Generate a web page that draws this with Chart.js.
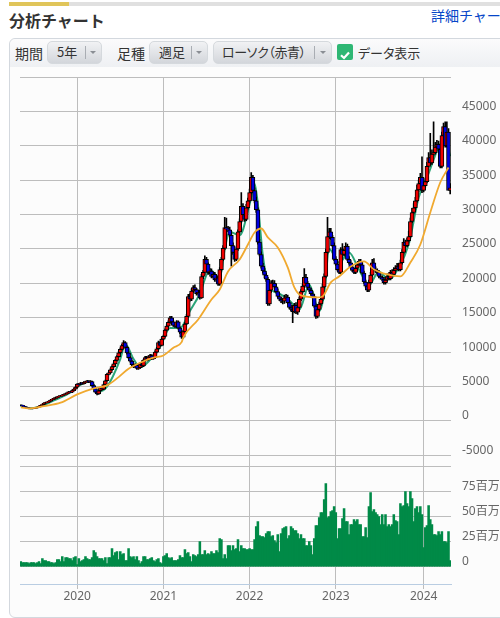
<!DOCTYPE html>
<html lang="ja">
<head>
<meta charset="utf-8">
<script src="https://cdn.jsdelivr.net/npm/chart.js@4/dist/chart.umd.min.js"></script>
<style>
  html, body { margin: 0; padding: 0; background: #fff; }
  body { position: relative; width: 500px; height: 618px; overflow: hidden; font-family: "Noto Sans CJK JP", "Noto Sans", sans-serif; color: #333; font-feature-settings: "palt"; }
  .abs { position: absolute; white-space: nowrap; }
  #topBar { left: 9px; top: 2px; width: 491px; height: 4px; background: #e0e0e0; }
  #topBarOn { left: 9px; top: 2px; width: 60px; height: 4px; background: #e0c55a; }
  #title { left: 9px; top: 8px; font-size: 16px; line-height: 24px; font-weight: 700; color: #333; font-feature-settings: normal; }
  #detail { left: 431px; top: 5px; font-size: 14px; line-height: 20px; color: #0645c8; font-feature-settings: normal; }
  #panel { left: 9px; top: 38px; width: 500px; height: 578px; border: 1px solid #d3d8de; border-radius: 6px; background: #fcfcfc; }
  #toolbar { left: 10px; top: 39px; width: 490px; height: 28px; background: linear-gradient(#fbfbfc, #eef0f3); border-radius: 6px 0 0 0; }
  .lbl { top: 42px; font-size: 14px; line-height: 22px; color: #333; }
  .btn { top: 41px; height: 23px; box-sizing: border-box; border: 1px solid #d5d9dd; border-radius: 5px; background: linear-gradient(#f1f2f4, #d3d6db); font-size: 13px; line-height: 20px; color: #333; }
  .btn span { position: absolute; top: 0; }
  .btn i { position: absolute; top: 4px; width: 1px; height: 13px; background: #a9adb3; }
  .btn b { position: absolute; top: 9px; width: 0; height: 0; border-left: 3px solid transparent; border-right: 3px solid transparent; border-top: 3px solid #8a8e94; }
  #check { left: 337px; top: 44px; width: 16px; height: 16px; border-radius: 2px; background: #2fb774; }
  #chartCanvas { position: absolute; left: 0; top: 68px; }
</style>
</head>
<body>
<div class="abs" id="topBar"></div>
<div class="abs" id="topBarOn"></div>
<div class="abs" id="title">分析チャート</div>
<div class="abs" id="detail">詳細チャート</div>
<div class="abs" id="panel"></div>
<div class="abs" id="toolbar"></div>
<div class="abs lbl" style="left:15px">期間</div>
<div class="abs btn" style="left:47px;width:55px"><span style="left:9px">5年</span><i style="left:37px"></i><b style="left:42px"></b></div>
<div class="abs lbl" style="left:117px">足種</div>
<div class="abs btn" style="left:149px;width:59px"><span style="left:9px">週足</span><i style="left:41px"></i><b style="left:46px"></b></div>
<div class="abs btn" style="left:213px;width:119px"><span style="left:8px;letter-spacing:-0.4px">ローソク（赤青）</span><i style="left:100px"></i><b style="left:106px"></b></div>
<div class="abs" id="check"><svg width="16" height="16"><path d="M4 8.2 L7 11 L12 5.5" fill="none" stroke="#fff" stroke-width="2.2"/></svg></div>
<div class="abs lbl" style="left:358px;font-size:13px">データ表示</div>
<canvas id="chartCanvas" width="500" height="550"></canvas>

<script>
// Weekly candles, 260 weeks from May 2019
const opens = [
  2300,2270,2180,2050,1960,1880,1820,1790,1830,1860,1950,2020,2150,2280,2400,2620,2680,2750,2900,3050,
  3150,3290,3400,3530,3610,3650,3780,3850,3980,4110,4230,4180,4420,4650,4900,5360,5300,5520,5430,5610,
  5700,5800,5640,5720,5150,4700,4200,3950,4400,4840,4620,5300,5850,6770,7000,7450,7900,8300,8800,9350,
  9920,10400,10950,11380,10700,9900,9200,8700,8200,7900,8100,7650,7740,8300,8000,8800,9200,8900,9300,9500,
  9050,9200,10000,10500,11380,11000,11900,12300,13200,13800,14330,15000,14400,13900,13750,14400,13500,12900,12200,13000,
  14100,15200,18100,17700,18900,19400,19100,18500,18700,17900,21000,21600,23500,22800,21600,21800,21000,21300,20500,20800,
  19900,22000,23500,25100,28100,27900,27800,27000,25500,24500,23500,25000,27500,29000,31200,30000,29300,31000,32000,33200,
  35400,33500,32000,30700,26000,24200,22500,21800,21200,20600,17000,19000,20100,20000,19500,18800,18100,17700,17400,17400,
  17900,18000,17200,16500,16200,15900,16800,15800,16500,17700,18800,19600,20900,20000,19400,19000,18500,18100,16700,15200,
  16200,17000,17700,19500,21000,24500,26800,27500,26700,25500,23500,22800,22000,21600,24900,24200,24800,25400,23500,23000,
  22400,21900,21600,22200,22700,23200,22700,21500,20200,19600,19000,20100,21200,23000,22000,21800,21600,21000,20800,20600,
  20100,20500,21000,20700,21600,21300,21900,22200,22500,22000,23000,24500,26000,25500,26200,26800,29000,30300,31000,32000,
  33600,34500,35400,33500,34200,34800,37000,38300,37500,38800,39000,39800,40200,39500,37000,41500,42800,40000,42000,33500
];
const closes = [
  2270,2180,2050,1960,1880,1820,1790,1830,1860,1950,2020,2150,2280,2400,2620,2680,2750,2900,3050,3150,
  3290,3400,3530,3610,3650,3780,3850,3980,4110,4230,4180,4420,4650,4900,5360,5300,5520,5430,5610,5700,
  5800,5640,5720,5150,4700,4200,3950,4400,4840,4620,5300,5850,6770,7000,7450,7900,8300,8800,9350,9920,
  10400,10950,11380,10700,9900,9200,8700,8200,7900,8100,7650,7740,8300,8000,8800,9200,8900,9300,9500,9050,
  9200,10000,10500,11380,11000,11900,12300,13200,13800,14330,15000,14400,13900,13750,14400,13500,12900,12200,13000,14100,
  15200,18100,17700,18900,19400,19100,18500,18700,17900,21000,21600,23500,22800,21600,21800,21000,21300,20500,20800,19900,
  22000,23500,25100,28100,27900,27800,27000,25500,24500,23500,25000,27500,29000,31200,30000,29300,31000,32000,33200,35400,
  33500,32000,30700,26000,24200,22500,21800,21200,20600,17000,19000,20100,20000,19500,18800,18100,17700,17400,17400,17900,
  18000,17200,16500,16200,15900,16800,15800,16500,17700,18800,19600,20900,20000,19400,19000,18500,18100,16700,15200,16200,
  17000,17700,19500,21000,24500,26800,27500,26700,25500,23500,22800,22000,21600,24900,24200,24800,25400,23500,23000,22400,
  21900,21600,22200,22700,23200,22700,21500,20200,19600,19000,20100,21200,23000,22000,21800,21600,21000,20800,20600,20100,
  20500,21000,20700,21600,21300,21900,22200,22500,22000,23000,24500,26000,25500,26200,26800,29000,30300,31000,32000,33600,
  34500,35400,33500,34200,34800,37000,38300,37500,38800,39000,39800,40200,39500,37000,41500,42800,40000,42000,33500,33900
];
const highs = [
  2350,2300,2220,2100,2000,1930,1870,1860,1900,1960,2060,2190,2320,2460,2680,2750,2840,2980,3120,3230,
  3360,3480,3600,3680,3730,3860,3930,4050,4190,4310,4320,4500,4730,4990,5450,5450,5620,5600,5720,5810,
  5920,5870,5860,5820,5280,4820,4310,4500,4920,4950,5400,5960,6900,7120,7570,8030,8450,8950,9500,10100,
  10650,11150,11700,11550,10900,10050,9350,8850,8350,8300,8250,8000,8450,8450,8950,9400,9400,9500,9700,9650,
  9400,10200,10700,11600,11550,12100,12500,13400,14000,14550,15200,15200,14600,14200,14600,14550,13700,13100,13200,14300,
  15500,18400,18500,19200,19700,19800,19300,19000,19000,21300,21900,24000,23800,23000,22200,22100,21600,21600,21100,21100,
  22300,23800,25500,29600,29500,28300,28200,27400,25900,24900,25300,27800,29400,33200,31600,30400,31500,32400,33700,36100,
  35700,33900,32500,31000,26400,24600,22900,22200,21500,20900,19300,20400,20500,20400,19900,19200,18400,18000,17800,18300,
  18400,18300,17500,16800,16500,17100,17200,16800,18000,19100,19900,22150,21300,20300,19700,19300,18800,18400,17000,16500,
  17300,18000,19900,21400,25000,29600,28000,28000,27000,25900,23900,23200,22300,25200,25800,25000,25900,25700,23900,23300,
  22700,22200,22600,23000,23500,23500,23000,21800,20500,19900,20500,21600,23500,23600,22400,22100,21900,21300,21100,20900,
  20900,21400,21300,21900,22000,22300,22600,22900,22900,23400,24900,26500,26300,26600,27600,29500,30900,31600,32500,34300,
  35000,36000,38400,34800,35300,37600,39000,41800,39400,43500,40500,40800,40700,39800,42000,43300,43500,43500,42500,34500
];
const lows = [
  2200,2120,2000,1910,1830,1770,1740,1750,1790,1820,1910,1980,2110,2240,2360,2570,2640,2700,2860,3000,
  3100,3240,3350,3480,3560,3600,3730,3800,3930,4060,4100,4120,4370,4600,4850,5200,5240,5360,5370,5550,
  5640,5580,5560,5050,4600,4100,3800,3880,4330,4550,4550,5220,5780,6680,6900,7350,7800,8200,8700,9250,
  9800,10300,10850,10550,9700,9050,8550,8050,7750,7750,7500,7500,7650,7850,7900,8700,8750,8800,9200,8900,
  8950,9100,9900,10400,10850,10900,11800,12200,13100,13700,14200,14250,13750,13600,13550,13350,12700,12000,12050,12900,
  14000,15100,17400,17500,18700,18900,18300,18300,17700,17800,20700,21300,22500,21300,21400,20800,20800,20300,20300,19700,
  19700,21800,23300,24900,27600,27500,26800,22500,24200,23200,23300,24800,27300,28800,29800,29000,29100,30800,31800,33000,
  33200,31700,30300,25700,24000,22200,21500,20800,20300,16800,16800,18700,19800,19300,18600,17900,17500,17200,17000,17100,
  17700,17000,16300,16000,14300,15700,15600,15500,16300,17500,18600,19400,19800,19200,18800,18300,17900,16500,14900,15000,
  16000,16800,17500,19300,20800,24300,26500,26400,25300,23300,22600,21800,21400,21400,24000,24000,24600,23300,22800,22200,
  21700,21400,21400,22000,22500,22500,21300,20000,19400,18800,18800,19900,21000,21800,21600,21400,20800,20600,20400,19900,
  19900,20300,20500,20500,21100,21100,21700,22000,21800,21800,22800,24300,25300,25300,26000,26600,28800,30100,30800,31800,
  33300,34300,33200,33300,34000,34600,36800,37300,37300,38600,38800,39600,39300,36800,36800,41300,39800,39800,33800,33000
];
// Volume in millions of shares
const volumes = [
  5,4,4,4,4,3,4,4,4,3,4,5,3,8,6,6,5,5,4,4,3,4,7,7,5,10,5,9,9,8,8,6,9,10,
  2,8,5,6,7,10,8,7,7,9,16,14,10,8,8,8,6,9,3,9,9,18,11,14,15,7,15,12,13,6,6,18,10,9,10,7,10,6,3,5,10,10,7,7,8,9,6,5,7,8,4,3,
  10,11,13,9,8,9,6,6,6,7,11,9,9,17,13,14,10,5,12,11,10,12,25,12,12,16,12,13,12,15,13,13,16,14,28,27,8,12,8,21,21,16,21,17,18,27,15,21,18,18,17,17,18,
  17,17,27,40,45,31,30,30,29,33,35,35,30,31,26,24,32,15,33,38,39,40,28,31,40,38,36,36,33,28,32,28,28,21,21,25,21,12,28,41,41,49,54,54,67,83,
  49,50,55,56,60,54,28,38,38,48,58,45,45,32,42,42,47,45,47,42,42,30,30,39,29,60,74,55,57,54,52,50,42,52,42,52,40,42,40,42,52,46,45,32,63,60,61,75,63,60,75,68,45,58,60,54,60,52,19,
  39,41,61,47,42,32,32,31,35,32,35,25,25,24,35,6
];
// Moving averages, read at the weeks in the *Weeks arrays
const greenWeeks = [0,6,12,20,30,36,42,47,52,60,63,68,72,78,84,90,96,102,108,114,120,123,126,132,138,141,143,146,150,156,162,168,174,180,183,186,192,198,204,210,216,222,228,234,240,246,252,256,259];
const greenValues = [2250,1850,2150,3000,4150,5300,5750,4300,5000,9000,11200,9000,7800,8900,10800,13500,13500,16000,18500,22000,20800,25000,27500,27000,31500,34500,31500,24000,19500,18500,17500,16200,19800,16000,18500,25000,23000,24500,22000,19800,21700,20600,22300,25700,32500,36000,39800,41000,38500];
const orangeWeeks = [0,6,14,24,34,44,52,59,65,72,80,86,92,97,98,107,115,120,125,132,137,141,145,149,155,161,165,169,179,182,187,192,199,207,213,221,229,235,241,247,253,258];
const orangeValues = [1980,1830,2160,2660,3860,4740,5170,6380,7600,8470,9200,9530,10650,11460,12150,14760,17670,19120,21740,23480,25660,27400,27980,26680,25220,22320,19410,18250,17960,18100,20140,21010,22460,23190,22030,21300,21010,23040,25660,30310,34670,36850];

const yearWeeks = [34, 86, 138, 190, 243];
const yearLabels = ['2020', '2021', '2022', '2023', '2024'];
const priceTicks = [50000, 45000, 40000, 35000, 30000, 25000, 20000, 15000, 10000, 5000, 0, -5000];
const priceLabels = ['', '45000', '40000', '35000', '30000', '25000', '20000', '15000', '10000', '5000', '0', '-5000'];
const volumeTicks = [100, 75, 50, 25, 0];
const volumeLabels = ['', '75百万', '50百万', '25百万', '0'];

const GRID = '#bdbdbd';
const TICK_FONT = { family: '"Noto Sans", "Noto Sans CJK JP", sans-serif', size: 12 };

const toPoints = (xs, ys) => xs.map((x, i) => ({ x: x, y: ys[i] }));

const fitRightAxis = (scale) => {
    scale.width = 49;
    scale.paddingTop = 0;
    scale.paddingBottom = 0;
};

new Chart(document.getElementById('chartCanvas'), {
    data: {
        datasets: [
            {
                type: 'line', data: toPoints(orangeWeeks, orangeValues), yAxisID: 'yPrice', order: 0,
                borderColor: '#f0a92f', borderWidth: 1.8, pointRadius: 0, cubicInterpolationMode: 'monotone'
            },
            {
                type: 'bar', data: opens.map((o, i) => ({ x: i, y: [o, closes[i]] })), yAxisID: 'yPrice', order: 1,
                grouped: false, barThickness: 4, borderWidth: 1, borderSkipped: false, borderColor: '#000',
                backgroundColor: opens.map((o, i) => closes[i] >= o ? '#f00000' : '#0000e0')
            },
            {
                type: 'bar', data: lows.map((l, i) => ({ x: i, y: [l, highs[i]] })), yAxisID: 'yPrice', order: 2,
                grouped: false, barThickness: 1, backgroundColor: '#000'
            },
            {
                type: 'line', data: toPoints(greenWeeks, greenValues), yAxisID: 'yPrice', order: 3,
                borderColor: '#2ba578', borderWidth: 2, pointRadius: 0, cubicInterpolationMode: 'monotone'
            },
            {
                type: 'bar', data: volumes.map((v, i) => ({ x: i, y: v })), yAxisID: 'yVolume', order: 4,
                grouped: false, barThickness: 1.9, backgroundColor: '#008a47'
            }
        ]
    },
    options: {
        responsive: false,
        animation: false,
        devicePixelRatio: 1,
        layout: { padding: { left: 20, top: 9, right: 0, bottom: 0 } },
        plugins: { legend: { display: false }, tooltip: { enabled: false } },
        scales: {
            x: {
                type: 'linear', min: -0.5, max: 259.5, offset: false,
                afterBuildTicks: (scale) => { scale.ticks = yearWeeks.map(w => ({ value: w })); },
                afterFit: (scale) => {
                    scale.height = 34;
                    scale.paddingLeft = 0;
                    scale.paddingRight = 0;
                },
                grid: { color: GRID, tickLength: 5, offset: false },
                border: { color: '#b9cde2' },
                ticks: {
                    autoSkip: false, maxRotation: 0, color: '#666', font: TICK_FONT, padding: 0,
                    callback: (v) => yearLabels[yearWeeks.indexOf(v)]
                }
            },
            yPrice: {
                type: 'linear', position: 'right', stack: 'panes', stackWeight: 384.5,
                min: -5887, max: 50000,
                afterBuildTicks: (scale) => { scale.ticks = priceTicks.map(v => ({ value: v })); },
                afterFit: fitRightAxis,
                grid: { color: GRID, drawTicks: false },
                border: { display: false },
                ticks: {
                    autoSkip: false, color: '#666', font: TICK_FONT, padding: 11, labelOffset: -5,
                    callback: (v) => priceLabels[priceTicks.indexOf(v)]
                }
            },
            yVolume: {
                type: 'linear', position: 'right', stack: 'panes', stackWeight: 122.5,
                min: -17.3, max: 105.2,
                afterBuildTicks: (scale) => { scale.ticks = volumeTicks.map(v => ({ value: v })); },
                afterFit: fitRightAxis,
                grid: { color: GRID, drawTicks: false },
                border: { display: false },
                ticks: {
                    autoSkip: false, color: '#666', font: TICK_FONT, padding: 11, labelOffset: -5,
                    callback: (v) => volumeLabels[volumeTicks.indexOf(v)]
                }
            }
        }
    }
});
</script>
</body>
</html>
